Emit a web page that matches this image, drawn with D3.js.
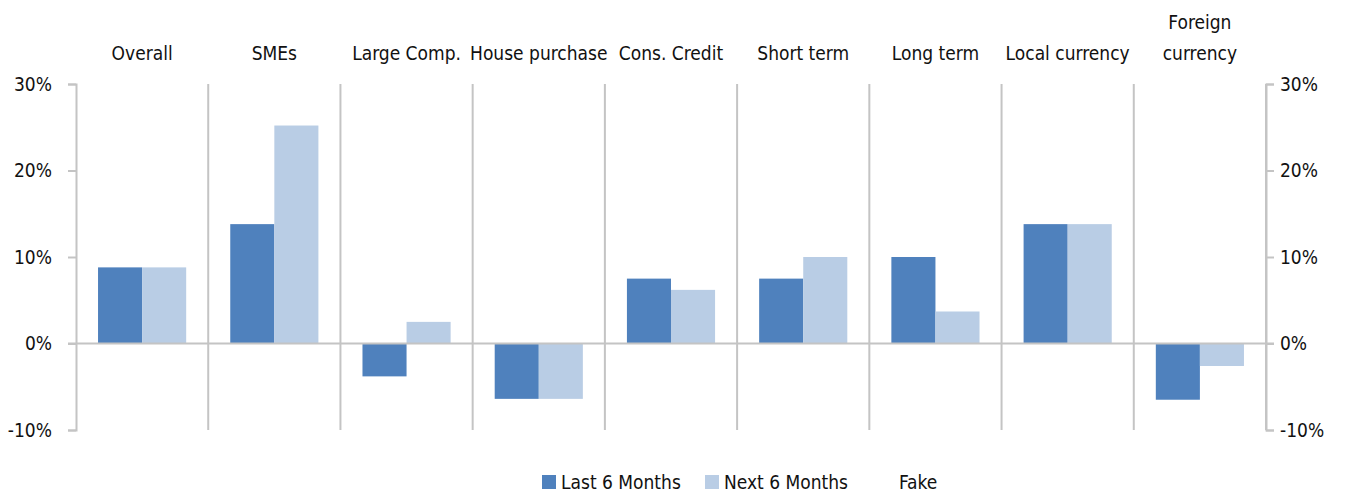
<!DOCTYPE html>
<html>
<head>
<meta charset="utf-8">
<script src="https://cdn.jsdelivr.net/npm/d3@7"></script>
<style>
  html, body { margin: 0; padding: 0; background: #fff; }
  svg text { font-family: "DejaVu Sans Condensed", "Liberation Sans Narrow", sans-serif; font-size: 19px; fill: #111; }
</style>
</head>
<body>
<div id="chart"></div>
<script>
// data
var categories = ["Overall", "SMEs", "Large Comp.", "House purchase", "Cons. Credit",
                  "Short term", "Long term", "Local currency", "Foreign currency"];
var lastSix = [0.088, 0.138, -0.038, -0.064, 0.075, 0.075, 0.100, 0.138, -0.065];
var nextSix = [0.088, 0.252, 0.025, -0.064, 0.062, 0.100, 0.037, 0.138, -0.026];
var seriesNames = ["Last 6 Months", "Next 6 Months", "Fake"];
var seriesColors = ["#4f81bd", "#b9cde5", "#ffffff"];
var yTicks = [-0.1, 0, 0.1, 0.2, 0.3];

var margin = {top: 84, right: 85, bottom: 65, left: 76},
    width = 1351 - margin.left - margin.right,
    height = 495 - margin.top - margin.bottom;

var gridColor = "#c4c4c4";

var svg = d3.select("#chart").append("svg")
    .attr("width", width + margin.left + margin.right)
    .attr("height", height + margin.top + margin.bottom)
    .append("g")
    .attr("transform", "translate(" + margin.left + "," + margin.top + ")");

var x = d3.scaleBand().domain(categories).range([0, width]).padding(0);
var xSub = d3.scaleBand().domain([0, 1]).range([0, x.bandwidth()])
    .paddingInner(0).paddingOuter(0.5);
var y = d3.scaleLinear().domain([-0.1, 0.3]).range([height, 0]);

var pct = function(d) { return Math.round(d * 100) + "%"; };

// separators between categories
svg.append("g")
    .selectAll("line")
    .data(categories)
    .enter().append("line")
    .attr("x1", function(d) { return x(d) + x.bandwidth(); })
    .attr("x2", function(d) { return x(d) + x.bandwidth(); })
    .attr("y1", 0)
    .attr("y2", height)
    .attr("stroke", gridColor)
    .attr("stroke-width", 2);

// left and right axes
var yLeft = svg.append("g")
    .call(d3.axisLeft(y).tickValues(yTicks).tickFormat(pct).tickSize(8).tickPadding(16));
var yRight = svg.append("g")
    .attr("transform", "translate(" + width + ",0)")
    .call(d3.axisRight(y).tickValues(yTicks).tickFormat(pct).tickSize(8).tickPadding(6));
[yLeft, yRight].forEach(function(g) {
    g.select(".domain").attr("stroke", gridColor).attr("stroke-width", 2);
    g.selectAll(".tick line").attr("stroke", gridColor).attr("stroke-width", 2);
    g.selectAll(".tick text").style("font-size", "19px").attr("fill", "#111");
});

// bars
var rows = categories.map(function(c, i) { return {cat: c, vals: [lastSix[i], nextSix[i]]}; });
var groups = svg.append("g")
    .selectAll("g")
    .data(rows)
    .enter().append("g")
    .attr("transform", function(d) { return "translate(" + x(d.cat) + ",0)"; });

groups.selectAll("rect")
    .data(function(d) { return d.vals.map(function(v, k) { return {k: k, v: v}; }); })
    .enter().append("rect")
    .attr("x", function(d) { return xSub(d.k); })
    .attr("width", xSub.bandwidth())
    .attr("y", function(d) { return y(Math.max(0, d.v)); })
    .attr("height", function(d) { return Math.abs(y(d.v) - y(0)); })
    .attr("fill", function(d) { return seriesColors[d.k]; });

// zero line
svg.append("line")
    .attr("x1", -8)
    .attr("x2", width + 8)
    .attr("y1", y(0))
    .attr("y2", y(0))
    .attr("stroke", gridColor)
    .attr("stroke-width", 2);

// category labels on top
var labels = svg.append("g")
    .selectAll("text")
    .data(categories)
    .enter().append("text")
    .attr("text-anchor", "middle")
    .attr("x", function(d) { return x(d) + x.bandwidth() / 2; });

labels.each(function(d) {
    var t = d3.select(this);
    if (d === "Foreign currency") {
        t.append("tspan").attr("x", t.attr("x")).attr("y", -55).text("Foreign");
        t.append("tspan").attr("x", t.attr("x")).attr("y", -24).text("currency");
    } else {
        t.attr("y", -24).text(d);
    }
});

// legend
var legendX = [466, 629, 804];
var legend = svg.append("g")
    .selectAll("g")
    .data(seriesNames)
    .enter().append("g")
    .attr("transform", function(d, i) { return "translate(" + legendX[i] + "," + (height + 45) + ")"; });

legend.append("rect")
    .attr("width", 14)
    .attr("height", 14)
    .attr("fill", function(d, i) { return seriesColors[i]; });

legend.append("text")
    .attr("x", 19)
    .attr("y", 14)
    .text(function(d) { return d; });
</script>
</body>
</html>
